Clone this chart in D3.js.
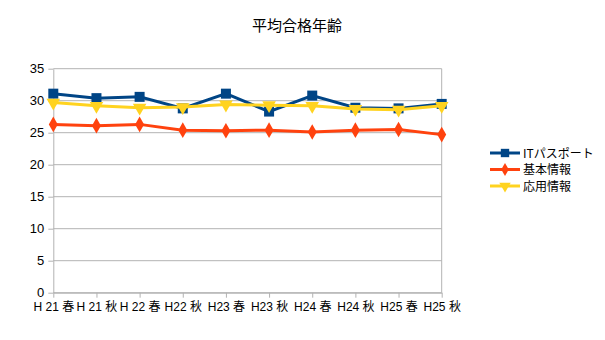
<!DOCTYPE html>
<html><head><meta charset="utf-8">
<script src="https://cdn.jsdelivr.net/npm/d3@7"></script>
<style>body{margin:0;background:#fff}svg{display:block}</style>
</head><body>
<script>
const title = "平均合格年齢";
const categories = ["H 21 春","H 21 秋","H 22 春","H22 秋","H23 春","H23 秋","H24 春","H24 秋","H25 春","H25 秋"];
const seriesNames = ["ITパスポート","基本情報","応用情報"];
const itPassport = [31.1, 30.4, 30.6, 28.8, 31.1, 28.3, 30.8, 28.9, 28.8, 29.5];
const kihon      = [26.3, 26.1, 26.3, 25.4, 25.3, 25.4, 25.1, 25.4, 25.5, 24.7];
const ouyou      = [29.7, 29.2, 28.9, 29.0, 29.4, 29.3, 29.2, 28.7, 28.6, 29.2];
const yTicks = [0,5,10,15,20,25,30,35];
const colors = ["#004586","#ff420e","#ffd320"];
const symbols = [d3.symbolSquare, d3.symbolDiamond, d3.symbolTriangle];

const W=605,H=340;
const pLeft=53.3,pRight=441.7,pTop=68.7,pBottom=292.7;
const svg=d3.select("body").append("svg").attr("width",W).attr("height",H);
const font="'Liberation Sans', Arial, 'Noto Sans CJK JP', sans-serif";
const x=d3.scalePoint().domain(categories).range([pLeft,pRight]);
const y=d3.scaleLinear().domain([0,35]).range([pBottom,pTop]);

svg.append("text").attr("x",297).attr("y",31).attr("text-anchor","middle")
  .attr("font-family","'Noto Sans CJK JP', sans-serif").attr("font-size",15).text(title);

// grid
svg.append("g").selectAll("line").data(yTicks).join("line")
  .attr("x1",pLeft).attr("x2",pRight).attr("y1",d=>y(d)).attr("y2",d=>y(d))
  .attr("stroke","#b3b3b3").attr("stroke-width",1);
svg.append("line").attr("x1",pRight).attr("x2",pRight).attr("y1",pTop).attr("y2",pBottom).attr("stroke","#b3b3b3");

const ya=svg.append("g").attr("transform",`translate(${pLeft},0)`).call(d3.axisLeft(y).tickValues(yTicks).tickSize(5).tickSizeOuter(0).tickPadding(4));
const xa=svg.append("g").attr("transform",`translate(0,${pBottom})`).call(d3.axisBottom(x).tickSize(5).tickSizeOuter(0).tickPadding(5));
[ya,xa].forEach(a=>{a.select(".domain").attr("stroke","#b3b3b3");a.selectAll(".tick line").attr("stroke","#b3b3b3");
  a.selectAll("text").attr("font-family",font).attr("font-size",12).attr("fill","#000");});
ya.selectAll("text").attr("font-size",13);
xa.selectAll("text").attr("font-family","'Liberation Sans', 'Noto Sans CJK JP', sans-serif");

const data=[itPassport,kihon,ouyou];
const sizes=[100,70,80];
const line=d3.line().x((d,i)=>x(categories[i])).y(d=>y(d));
data.forEach((s,k)=>{
  const g=svg.append("g");
  g.append("path").datum(s).attr("d",line).attr("fill","none").attr("stroke",colors[k]).attr("stroke-width",3);
  g.selectAll("path.m").data(s).join("path").attr("class","m")
    .attr("d",d3.symbol(symbols[k],sizes[k]))
    .attr("transform",(d,i)=>`translate(${x(categories[i])},${y(d)})`+(k===2?" rotate(180)":""))
    .attr("fill",colors[k]);
});

// legend
const lg=svg.append("g");
seriesNames.forEach((n,k)=>{
  const yy=153+k*16.5;
  lg.append("line").attr("x1",490).attr("x2",520).attr("y1",yy).attr("y2",yy).attr("stroke",colors[k]).attr("stroke-width",3);
  lg.append("path").attr("d",d3.symbol(symbols[k],sizes[k]*0.7)).attr("transform",`translate(505,${yy})`+(k===2?" rotate(180)":"")).attr("fill",colors[k]);
  lg.append("text").attr("x",523).attr("y",yy+4.5).attr("font-family","'Noto Sans CJK JP', sans-serif").attr("font-size",12).text(n);
});
</script>
</body></html>
